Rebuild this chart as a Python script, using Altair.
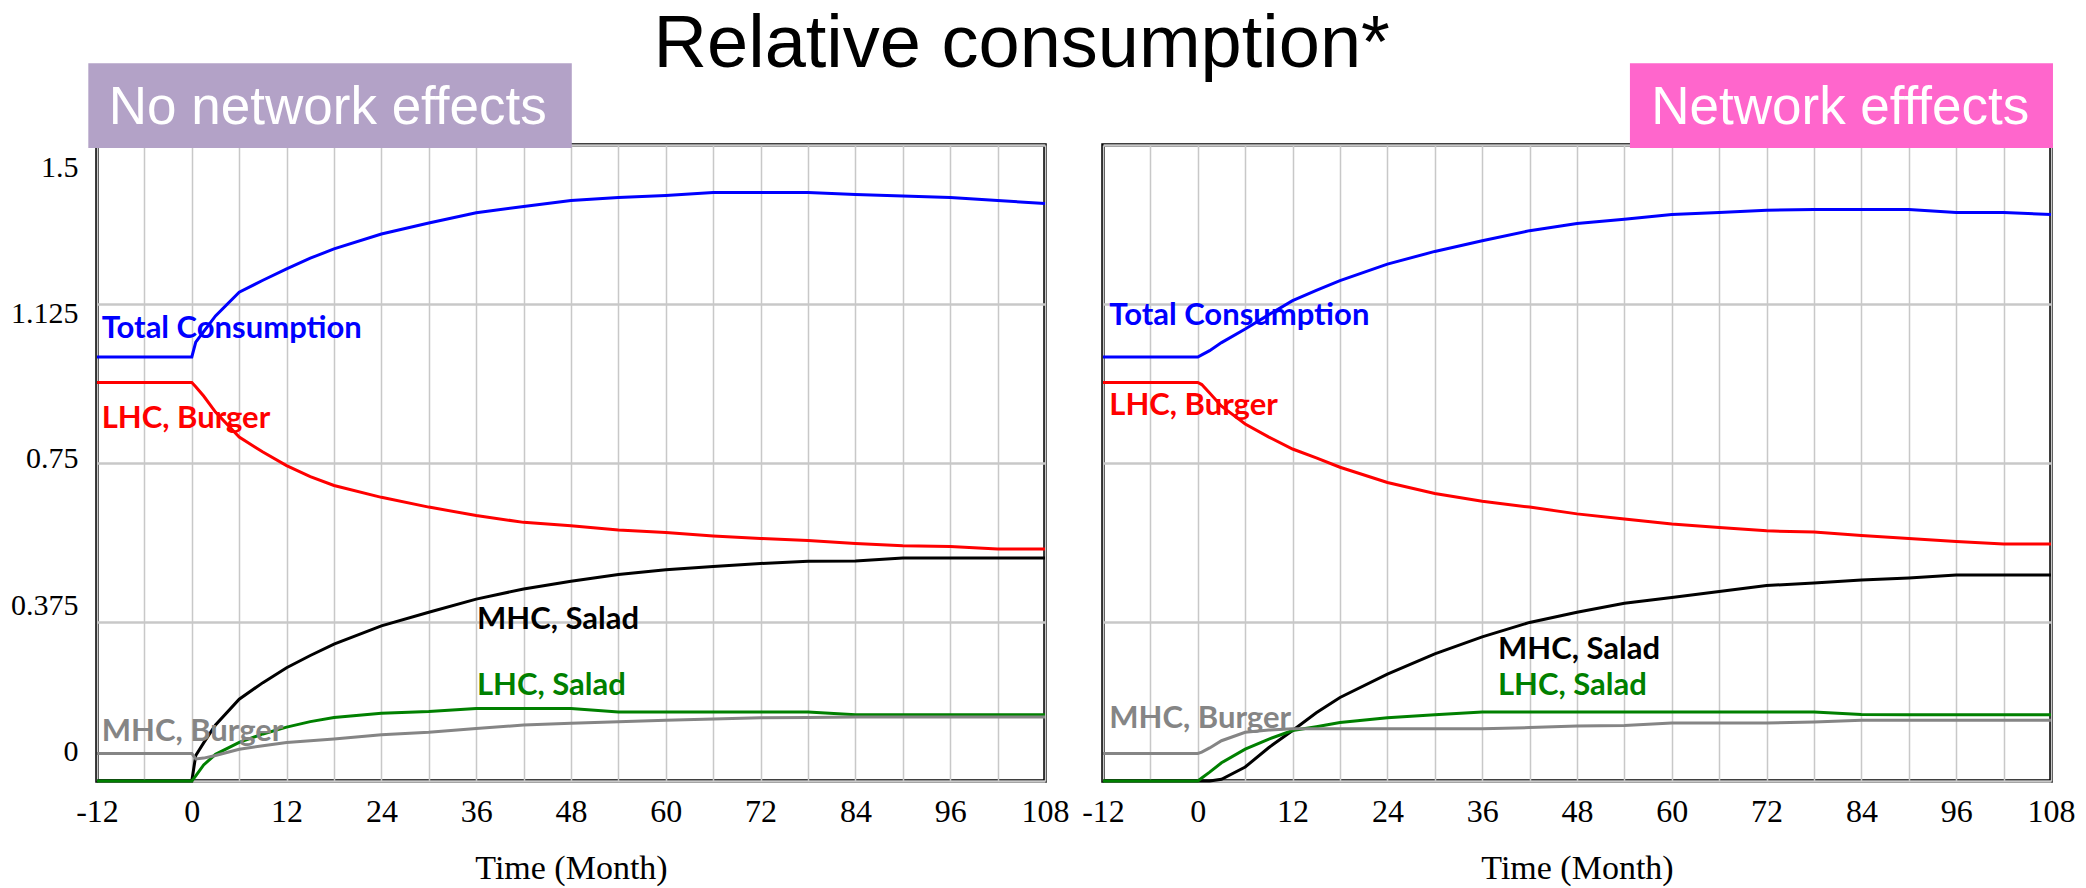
import altair as alt
import pandas as pd

# ---- data (relative consumption, months) ----
months = [-12, 0, 0.5, 1.5, 3, 6, 9, 12, 15, 18, 24, 30, 36, 42, 48, 54, 60, 66, 72, 78, 84, 90, 96, 102, 108]

series_names = ["Total Consumption", "LHC, Burger", "MHC, Salad", "LHC, Salad", "MHC, Burger"]
series_colors = ["#0000FF", "#FF0000", "#000000", "#008000", "#858585"]

# No network effects
nne_total = [1.0, 1.0, 1.035, 1.06, 1.097, 1.153, 1.181, 1.208, 1.233, 1.255, 1.290, 1.316, 1.340,
             1.355, 1.369, 1.376, 1.381, 1.388, 1.388, 1.388, 1.383, 1.380, 1.376, 1.369, 1.362]
nne_lhc_burger = [0.94, 0.94, 0.93, 0.908, 0.870, 0.811, 0.776, 0.744, 0.718, 0.697, 0.669, 0.646, 0.626,
                  0.610, 0.602, 0.592, 0.586, 0.578, 0.572, 0.567, 0.560, 0.555, 0.553, 0.547, 0.547]
nne_mhc_salad = [0, 0, 0.06, 0.09, 0.132, 0.193, 0.232, 0.267, 0.296, 0.323, 0.366, 0.398, 0.429,
                 0.453, 0.471, 0.487, 0.498, 0.506, 0.513, 0.518, 0.519, 0.526, 0.526, 0.526, 0.526]
nne_lhc_salad = [0, 0, 0.012, 0.038, 0.063, 0.091, 0.111, 0.127, 0.140, 0.150, 0.160, 0.164, 0.171,
                 0.171, 0.171, 0.163, 0.163, 0.163, 0.163, 0.163, 0.156, 0.156, 0.156, 0.156, 0.156]
nne_mhc_burger = [0.065, 0.065, 0.052, 0.054, 0.060, 0.075, 0.083, 0.091, 0.095, 0.099, 0.109, 0.115, 0.124,
                  0.132, 0.136, 0.140, 0.143, 0.146, 0.149, 0.150, 0.151, 0.151, 0.151, 0.151, 0.151]

# Network effects
ne_total = [1.0, 1.0, 1.005, 1.015, 1.034, 1.066, 1.100, 1.133, 1.157, 1.180, 1.219, 1.249, 1.274,
            1.298, 1.315, 1.325, 1.336, 1.341, 1.346, 1.348, 1.348, 1.348, 1.341, 1.341, 1.336]
ne_lhc_burger = [0.94, 0.94, 0.935, 0.915, 0.884, 0.842, 0.811, 0.783, 0.762, 0.740, 0.704, 0.678, 0.660,
                 0.646, 0.630, 0.618, 0.606, 0.598, 0.590, 0.587, 0.579, 0.572, 0.565, 0.559, 0.559]
ne_mhc_salad = [0, 0, 0, 0, 0.004, 0.033, 0.079, 0.119, 0.161, 0.197, 0.252, 0.300, 0.340,
                0.374, 0.398, 0.419, 0.433, 0.447, 0.461, 0.467, 0.474, 0.479, 0.486, 0.486, 0.486]
ne_lhc_salad = [0, 0, 0.007, 0.021, 0.043, 0.075, 0.099, 0.119, 0.128, 0.138, 0.149, 0.156, 0.163,
                0.163, 0.163, 0.163, 0.163, 0.163, 0.163, 0.163, 0.157, 0.156, 0.156, 0.156, 0.156]
ne_mhc_burger = [0.065, 0.065, 0.068, 0.078, 0.095, 0.115, 0.120, 0.123, 0.123, 0.123, 0.123, 0.123, 0.123,
                 0.126, 0.130, 0.131, 0.137, 0.137, 0.137, 0.139, 0.143, 0.143, 0.143, 0.143, 0.143]

# in-chart series labels (month, value)
nne_label_month = [-11.4, -11.4, 36.1, 36.1, -11.4]
nne_label_value = [1.066, 0.854, 0.380, 0.224, 0.116]
ne_label_month = [-11.2, -11.2, 38.0, 38.0, -11.2]
ne_label_value = [1.097, 0.884, 0.309, 0.224, 0.146]

# panel headings (boxes)
panel_titles = ["No network effects", "Network efffects"]
panel_colors = ["#B3A2C7", "#FF66CC"]
box_month_start = [-13.1, 54.7]
box_month_end = [48.1, 108.25]
box_value_bottom = 1.493
box_value_top = 1.693
box_text_month = [-10.5, 57.4]
box_text_value = 1.5495

x_ticks = list(range(-12, 109, 6))
y_ticks = [0, 0.375, 0.75, 1.125, 1.5]

LABEL_FONT = "Lato, 'Liberation Sans Narrow', Roboto, sans-serif"


def lines_df(series_values):
    rows = []
    for name, vals in zip(series_names, series_values):
        for m, v in zip(months, vals):
            rows.append({"month": m, "value": v, "series": name})
    return pd.DataFrame(rows)


def make_panel(series_values, lab_m, lab_v, idx, show_y_labels):
    x_scale = alt.Scale(domain=[-12, 108], nice=False, zero=False)
    y_scale = alt.Scale(domain=[0, 1.5], nice=False, zero=False)
    color_scale = alt.Scale(domain=series_names, range=series_colors)

    x_axis = alt.Axis(
        values=x_ticks,
        labelExpr="datum.value % 12 == 0 ? '' + datum.value : ''",
        grid=True, gridColor="#C8C8C8", gridWidth=1.5,
        ticks=False, domain=False, labelFlush=False, labelOverlap=False,
        labelFont="Liberation Serif", labelFontSize=32, labelColor="black", labelPadding=15,
        title="Time (Month)", titleFont="Liberation Serif", titleFontSize=34,
        titleFontWeight="normal", titleColor="black", titlePadding=24,
    )
    y_axis = alt.Axis(
        values=y_ticks,
        labelExpr="'' + datum.value",
        labels=show_y_labels,
        grid=True, gridColor="#C8C8C8", gridWidth=2.5,
        ticks=False, domain=False, title=None,
        labelFont="Liberation Serif", labelFontSize=30, labelColor="black", labelPadding=19,
        labelOffset={"condition": [
            {"test": "datum.value == 1.5", "value": 22},
            {"test": "datum.value == 1.125", "value": 9},
            {"test": "datum.value == 0.75", "value": -5},
            {"test": "datum.value == 0.375", "value": -17},
            {"test": "datum.value == 0", "value": -30},
        ], "value": 0},
    )

    lines = alt.Chart(lines_df(series_values)).mark_line(strokeWidth=3).encode(
        x=alt.X("month:Q", scale=x_scale, axis=x_axis),
        y=alt.Y("value:Q", scale=y_scale, axis=y_axis),
        color=alt.Color("series:N", scale=color_scale, legend=None),
    )

    lab_df = pd.DataFrame({"month": lab_m, "value": lab_v, "series": series_names})
    labels = alt.Chart(lab_df).mark_text(
        align="left", baseline="middle", font=LABEL_FONT,
        fontWeight="bold", fontSize=31,
    ).encode(
        x=alt.X("month:Q", scale=x_scale),
        y=alt.Y("value:Q", scale=y_scale),
        text="series:N",
        color=alt.Color("series:N", scale=color_scale, legend=None),
    )

    box_df = pd.DataFrame({
        "m0": [box_month_start[idx]], "m1": [box_month_end[idx]],
        "v0": [box_value_bottom], "v1": [box_value_top],
        "fill": [panel_colors[idx]], "label": [panel_titles[idx]],
        "tm": [box_text_month[idx]], "tv": [box_text_value],
    })
    box = alt.Chart(box_df).mark_rect().encode(
        x=alt.X("m0:Q", scale=x_scale), x2="m1:Q",
        y=alt.Y("v0:Q", scale=y_scale), y2="v1:Q",
        color=alt.Color("fill:N", scale=None),
    )
    box_text = alt.Chart(box_df).mark_text(
        align="left", baseline="alphabetic", font="Liberation Sans",
        fontSize=53, color="white",
    ).encode(
        x=alt.X("tm:Q", scale=x_scale),
        y=alt.Y("tv:Q", scale=y_scale),
        text="label:N",
    )
    return alt.layer(lines, labels, box, box_text).properties(width=948, height=636)


left = make_panel([nne_total, nne_lhc_burger, nne_mhc_salad, nne_lhc_salad, nne_mhc_burger],
                  nne_label_month, nne_label_value, 0, True)
right = make_panel([ne_total, ne_lhc_burger, ne_mhc_salad, ne_lhc_salad, ne_mhc_burger],
                   ne_label_month, ne_label_value, 1, False)

chart = alt.hconcat(left, right, spacing=58, bounds="flush").properties(
    title=alt.TitleParams(
        "Relative consumption*", fontSize=74, font="Liberation Sans", fontWeight="normal",
        anchor="middle", frame="bounds", baseline="alphabetic", offset=-80, dx=-21, color="black",
    ),
    padding={"left": 0, "top": 0, "right": 0, "bottom": 0},
).configure_view(stroke="black", strokeWidth=3.5)

chart.save("out.html", embed_options={"renderer": "svg", "actions": False})
